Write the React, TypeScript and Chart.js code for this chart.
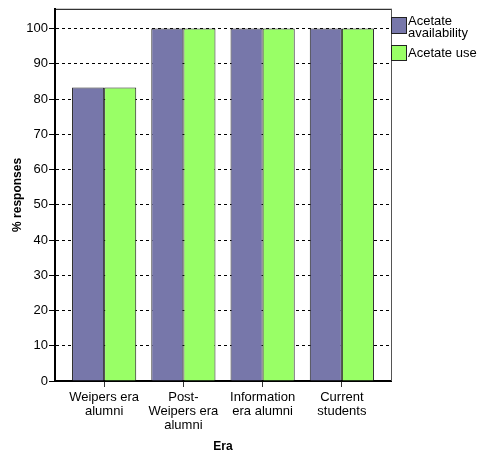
import React, { useEffect, useRef } from "react";
import { Chart, registerables } from "chart.js";

Chart.register(...registerables);

const categories: string[][] = [
  ["Weipers era", "alumni"],
  ["Post-", "Weipers era", "alumni"],
  ["Information", "era alumni"],
  ["Current", "students"],
];
const seriesNames = ["Acetate availability", "Acetate use"];
const availability = [83.3, 100, 100, 100];
const use = [83.3, 100, 100, 100];
const yTicks = [0, 10, 20, 30, 40, 50, 60, 70, 80, 90, 100];

const PURPLE = "#7777aa";
const GREEN = "#99ff66";
const FONT = "'Liberation Sans', Arial, Helvetica, sans-serif";

const framePlugin = {
  id: "frame",
  afterDatasetsDraw(chart: any) {
    const { ctx, chartArea } = chart;
    ctx.save();
    ctx.lineWidth = 1;
    ctx.strokeStyle = "#000";
    ctx.beginPath();
    ctx.moveTo(chartArea.left, chartArea.top + 0.5);
    ctx.lineTo(chartArea.right + 0.5, chartArea.top + 0.5);
    ctx.stroke();
    ctx.strokeStyle = "#555";
    ctx.beginPath();
    ctx.moveTo(chartArea.right + 0.5, chartArea.top);
    ctx.lineTo(chartArea.right + 0.5, chartArea.bottom);
    ctx.stroke();
    ctx.restore();
  },
};

export default function App() {
  const ref = useRef<HTMLCanvasElement>(null);

  useEffect(() => {
    if (!ref.current) return;
    const chart = new Chart(ref.current, {
      type: "bar",
      data: {
        datasets: [
          {
            label: seriesNames[0],
            data: availability.map((v, i) => ({ x: i, y: v })),
            backgroundColor: PURPLE,
            borderColor: "#222",
            borderWidth: 1,
          },
          {
            label: seriesNames[1],
            data: use.map((v, i) => ({ x: i, y: v })),
            backgroundColor: GREEN,
            borderColor: "#222",
            borderWidth: 1,
          },
        ],
      },
      options: {
        animation: false,
        responsive: false,
        maintainAspectRatio: false,
        events: [],
        layout: { padding: { top: 8, right: 89, left: 0, bottom: 0 } },
        datasets: { bar: { categoryPercentage: 0.81, barPercentage: 1 } },
        plugins: { legend: { display: false }, tooltip: { enabled: false } },
        scales: {
          x: {
            type: "linear",
            offset: false,
            min: -0.62,
            max: 3.62,
            afterBuildTicks: (s: any) => {
              s.ticks = categories.map((_, i) => ({ value: i }));
            },
            afterFit: (s: any) => {
              s.height = 77;
            },
            grid: {
              offset: false,
              drawOnChartArea: false,
              drawTicks: true,
              tickLength: 6,
              tickColor: "#333",
              tickWidth: 1,
            },
            border: { display: true, color: "#000", width: 2 },
            ticks: {
              color: "#000",
              font: { family: FONT, size: 13, lineHeight: 1.1 },
              padding: 3,
              maxRotation: 0,
              autoSkip: false,
              callback: (v: any) => categories[v] ?? "",
            },
            title: {
              display: true,
              text: "Era",
              color: "#000",
              font: { family: FONT, size: 12, weight: "bold" },
              padding: { top: 0, bottom: 4 },
            },
          },
          y: {
            min: 0,
            max: 105.6,
            afterBuildTicks: (s: any) => {
              s.ticks = yTicks.map((v) => ({ value: v }));
            },
            afterFit: (s: any) => {
              s.width = 55;
            },
            grid: {
              color: "#000",
              lineWidth: 1,
              drawTicks: true,
              tickLength: 6,
              tickColor: "#000",
              tickWidth: 1,
              tickBorderDash: [],
            },
            border: { display: true, color: "#000", width: 2, dash: [3, 3] },
            ticks: {
              color: "#000",
              font: { family: FONT, size: 13 },
              padding: 1,
            },
            title: {
              display: true,
              text: "% responses",
              color: "#000",
              font: { family: FONT, size: 12, weight: "bold" },
              padding: { top: 10, bottom: 0 },
            },
          },
        },
      },
      plugins: [framePlugin],
    } as any);
    return () => chart.destroy();
  }, []);

  const txt: React.CSSProperties = {
    position: "absolute",
    fontFamily: FONT,
    fontSize: 13,
    lineHeight: "12px",
    color: "#000",
    whiteSpace: "nowrap",
  };
  const box: React.CSSProperties = {
    position: "absolute",
    left: 391,
    width: 14,
    border: "1px solid #222",
  };

  return (
    <div style={{ position: "fixed", left: 0, top: 0, width: 480, height: 458, background: "#fff" }}>
      <canvas ref={ref} width={480} height={458} style={{ width: 480, height: 458, display: "block" }} />
      <div style={{ ...box, top: 17, height: 15, background: PURPLE }} />
      <div style={{ ...txt, left: 408, top: 15 }}>
        Acetate
        <br />
        availability
      </div>
      <div style={{ ...box, top: 45, height: 14, background: GREEN }} />
      <div style={{ ...txt, left: 408, top: 47 }}>{seriesNames[1]}</div>
    </div>
  );
}
